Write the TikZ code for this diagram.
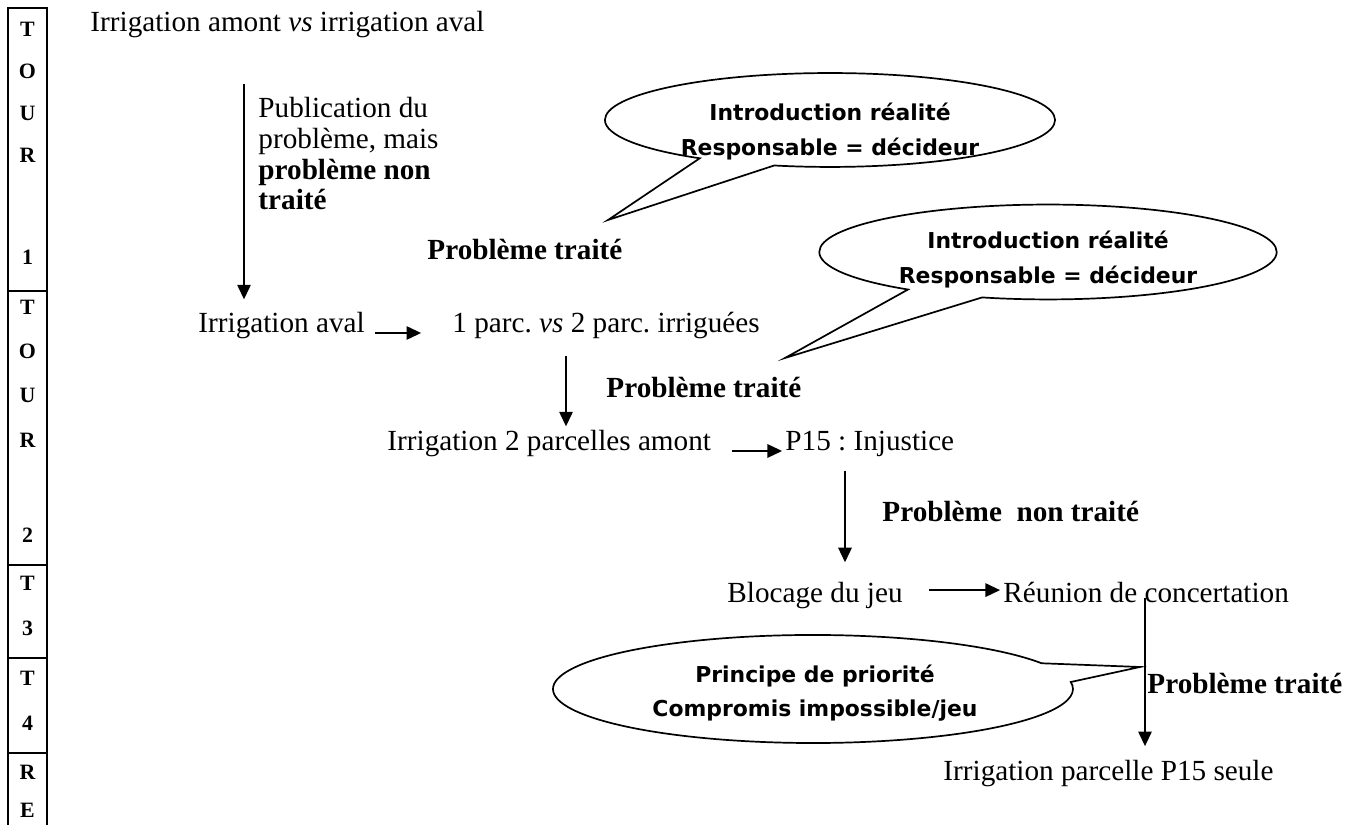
\documentclass[tikz,border=0pt]{standalone}
\usepackage{fontspec}
\setmainfont{Liberation Serif}
\newfontfamily\bullefont{DejaVu Sans}
\usetikzlibrary{arrows.meta,shapes.callouts}
\frenchspacing
\tikzset{
  etape/.style={font=\fontsize{12}{14}\selectfont, inner sep=0pt, anchor=base west},
  remarque/.style={etape, font=\fontsize{12}{14}\selectfont\bfseries},
  bulle/.style={ellipse callout, draw=black, line width=0.7pt, fill=white,
    callout pointer arc=21, inner sep=0pt},
  bulletexte/.style={font=\bullefont\bfseries\fontsize{9}{14}\selectfont,
    align=center, inner sep=0pt},
  fleche/.style={-{Triangle[length=6pt,width=5.5pt]}, line width=0.75pt},
  lettre/.style={font=\fontsize{9}{10}\selectfont\bfseries, inner sep=0pt},
  cadre/.style={line width=1pt}
}
\begin{document}
\begin{tikzpicture}[x=0.411pt,y=-0.411pt]
  \useasboundingbox (0,0) rectangle (1356,825);
  % bande des tours
  \draw[cadre] (8,860) |- (47,8) -- (47,860);
  \foreach \y in {291,565,658,753}
    \draw[cadre] (8,\y) -- (47,\y);
  \foreach \c/\y [count=\i] in {T/29,O/71,U/113,R/155,1/257,T/307,O/351,U/395,R/440,2/535,T/583,3/628,T/678,4/723,R/772,E/810}
    \node[lettre] (lt\i) at (27.5,\y) {\c};

  % etapes
  \node[etape] (amont) at (90,32) {Irrigation amont \textit{vs} irrigation aval};
  \node[etape, anchor=west, align=left, font=\fontsize{12}{12.6}\selectfont] (publi) at (258,154)
    {Publication du\\problème, mais\\\textbf{problème non}\\\textbf{traité}};
  \node[remarque] (traite1) at (427,260) {Problème traité};
  \node[etape] (aval) at (198,333) {Irrigation aval};
  \node[etape] (parc) at (452,333) {1 parc. \textit{vs} 2 parc. irriguées};
  \node[remarque] (traite2) at (606,398) {Problème traité};
  \node[etape] (deux) at (387,451) {Irrigation 2 parcelles amont};
  \node[etape] (injust) at (785,451) {P15 : Injustice};
  \node[remarque] (nontraite) at (882,522) {Problème\ \ non traité};
  \node[etape] (blocage) at (727,603) {Blocage du jeu};
  \node[etape] (reunion) at (1003,603) {Réunion de concertation};
  \node[remarque] (traite3) at (1147,694) {Problème traité};
  \node[etape] (seule) at (943,781) {Irrigation parcelle P15 seule};

  % fleches
  \coordinate (col1) at (244,0);
  \coordinate (col2) at (566,0);
  \coordinate (col3) at (845,0);
  \coordinate (col4) at (1145,0);
  \draw[fleche, shorten <=18.5pt, shorten >=5.3pt] (amont.south -| col1) -- (col1 |- aval.north);
  \draw[fleche, shorten <=4pt, shorten >=12.7pt] (aval.base east) -- (parc.base west);
  \draw[fleche, shorten <=6.6pt, shorten >=1.6pt] (parc.south -| col2) -- (col2 |- deux.north);
  \draw[fleche, shorten <=8.6pt, shorten >=1.2pt] (deux.base east) -- (injust.base west);
  \draw[fleche, shorten <=5.3pt, shorten >=8.2pt] (injust.south -| col3) -- (col3 |- blocage.north);
  \draw[fleche, shorten <=10.7pt, shorten >=1.2pt] ([yshift=5.3pt]blocage.base east) -- ([yshift=5.3pt]reunion.base west);
  \draw[fleche, shorten >=5.8pt] (reunion.base -| col4) ++(0,-5) -- (col4 |- seule.north);

  % bulles
  \coordinate (pointe1) at (608,220);
  \coordinate (pointe2) at (785,358);
  \coordinate (pointe3) at (1140,667);
  \node[bulle, minimum width=185pt, minimum height=38.6pt, callout absolute pointer=(pointe1)]
    (bulle1) at (830,120) {};
  \node[bulletexte] (texte1) at (830,131.5) {Introduction réalité\\Responsable = décideur};
  \node[bulle, minimum width=188pt, minimum height=39pt, callout absolute pointer=(pointe2)]
    (bulle2) at (1048,252) {};
  \node[bulletexte] (texte2) at (1048,259.5) {Introduction réalité\\Responsable = décideur};
  \node[bulle, minimum width=213.7pt, minimum height=44.4pt, callout absolute pointer=(pointe3)]
    (bulle3) at (813,689) {};
  \node[bulletexte] (texte3) at (815,693.5) {Principe de priorité\\Compromis impossible/jeu};
\end{tikzpicture}
\end{document}
